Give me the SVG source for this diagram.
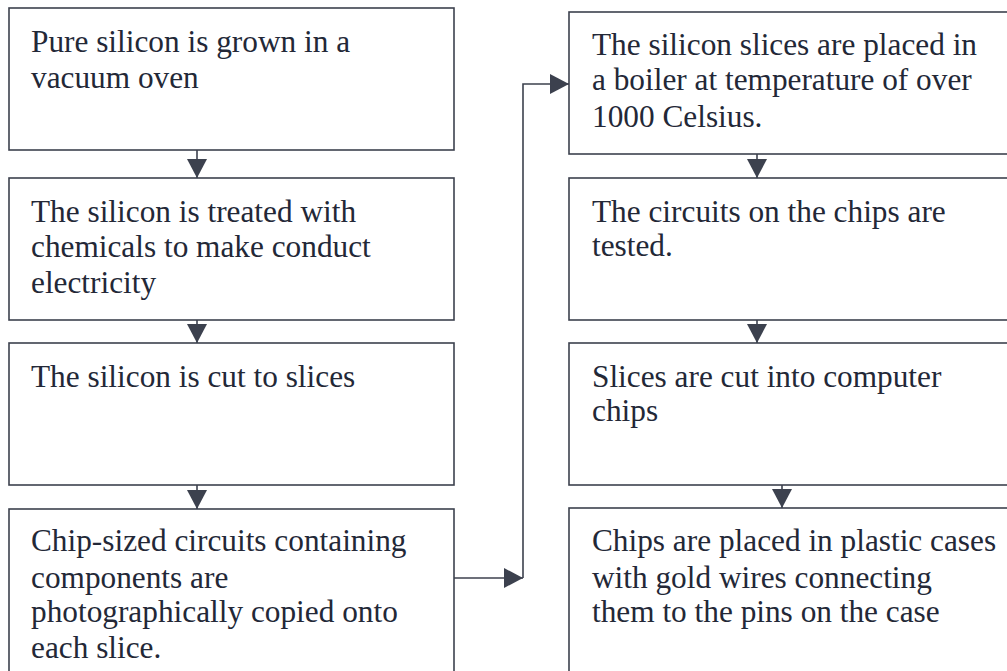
<svg xmlns="http://www.w3.org/2000/svg" width="1007" height="671" viewBox="0 0 1007 671">
<style>
.box{fill:#ffffff;stroke:#3c414e;stroke-width:1.6}
.t{font-family:"Liberation Serif","Times New Roman",serif;font-size:31.3px;fill:#232837}
.c{fill:none;stroke:#3c414e;stroke-width:1.6}
</style>
<defs>
<marker id="ah" markerUnits="userSpaceOnUse" markerWidth="20" markerHeight="20" viewBox="0 0 20 20" refX="19" refY="10" orient="auto">
<path d="M0,0 L19,10 L0,20 Z" fill="#3c414e"/>
</marker>
</defs>
<rect width="1007" height="671" fill="#ffffff"/>
<g id="connectors">
<path class="c" d="M197,150 V178" marker-end="url(#ah)"/>
<path class="c" d="M197,320 V343" marker-end="url(#ah)"/>
<path class="c" d="M197,485 V509" marker-end="url(#ah)"/>
<path class="c" d="M454,578 H523" marker-end="url(#ah)"/>
<path class="c" d="M523,578 V84 H569" marker-end="url(#ah)"/>
<path class="c" d="M757,154 V178" marker-end="url(#ah)"/>
<path class="c" d="M757,320 V343" marker-end="url(#ah)"/>
<path class="c" d="M782,485 V508" marker-end="url(#ah)"/>
</g>
<g id="n1">
<rect class="box" x="9" y="8" width="445" height="142"/>
<text class="t" x="31" y="52">Pure silicon is grown in a</text>
<text class="t" x="31" y="88">vacuum oven</text>
</g>
<g id="n2">
<rect class="box" x="9" y="178" width="445" height="142"/>
<text class="t" x="31" y="222">The silicon is treated with</text>
<text class="t" x="31" y="257">chemicals to make conduct</text>
<text class="t" x="31" y="293">electricity</text>
</g>
<g id="n3">
<rect class="box" x="9" y="343" width="445" height="142"/>
<text class="t" x="31" y="387">The silicon is cut to slices</text>
</g>
<g id="n4">
<rect class="box" x="9" y="509" width="445" height="180"/>
<text class="t" x="31" y="551">Chip-sized circuits containing</text>
<text class="t" x="31" y="588">components are</text>
<text class="t" x="31" y="622">photographically copied onto</text>
<text class="t" x="31" y="658">each slice.</text>
</g>
<g id="n5">
<rect class="box" x="569" y="12" width="460" height="142"/>
<text class="t" x="592" y="55">The silicon slices are placed in</text>
<text class="t" x="592" y="90">a boiler at temperature of over</text>
<text class="t" x="592" y="127">1000 Celsius.</text>
</g>
<g id="n6">
<rect class="box" x="569" y="178" width="460" height="142"/>
<text class="t" x="592" y="222">The circuits on the chips are</text>
<text class="t" x="592" y="256">tested.</text>
</g>
<g id="n7">
<rect class="box" x="569" y="343" width="460" height="142"/>
<text class="t" x="592" y="387">Slices are cut into computer</text>
<text class="t" x="592" y="421">chips</text>
</g>
<g id="n8">
<rect class="box" x="569" y="508" width="460" height="180"/>
<text class="t" x="592" y="551">Chips are placed in plastic cases</text>
<text class="t" x="592" y="588">with gold wires connecting</text>
<text class="t" x="592" y="622">them to the pins on the case</text>
</g>
</svg>
